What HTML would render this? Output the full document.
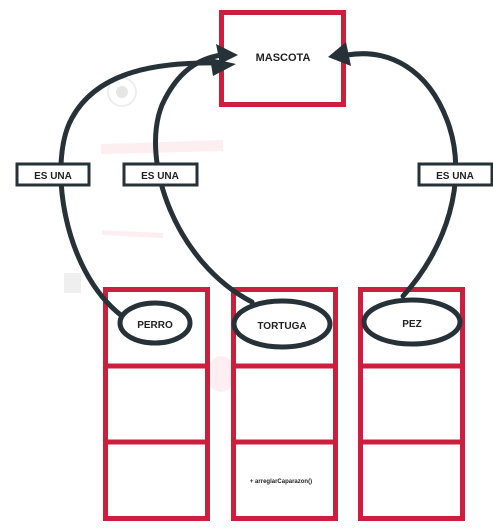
<!DOCTYPE html>
<html><head><style>
html,body{margin:0;padding:0;background:#fff;width:493px;height:531px;overflow:hidden}
svg{display:block}
text{font-family:"Liberation Sans",sans-serif;font-weight:bold;fill:#222}
</style></head><body>
<svg width="493" height="531" viewBox="0 0 493 531">
<circle cx="122" cy="92" r="14" fill="none" stroke="#eee" stroke-width="2"/>
<circle cx="122" cy="92" r="6" fill="#e6e6e6"/>
<polygon points="101,144 223,140 223,151 101,154" fill="#fdeef1"/>
<polygon points="102,230 163,233 163,238 102,235" fill="#fdeef1"/>
<rect x="64" y="273" width="17" height="20" fill="#efefef"/>
<ellipse cx="221" cy="374" rx="14" ry="18" fill="#fdeef1"/>

<rect x="221.5" y="12.5" width="122" height="92" fill="#fff" stroke="#cc1f3d" stroke-width="5"/>
<text x="283" y="61" font-size="11" text-anchor="middle">MASCOTA</text>

<g fill="#fff" stroke="#cc1f3d" stroke-width="5">
<rect x="105.5" y="289.5" width="102" height="229"/>
<rect x="233.5" y="289.5" width="102" height="229"/>
<rect x="360.5" y="289.5" width="102" height="229"/>
</g>
<g stroke="#cc1f3d" stroke-width="5">
<line x1="105" y1="366" x2="208" y2="366"/><line x1="105" y1="442" x2="208" y2="442"/>
<line x1="233" y1="366" x2="336" y2="366"/><line x1="233" y1="442" x2="336" y2="442"/>
<line x1="360" y1="366" x2="463" y2="366"/><line x1="360" y1="442" x2="463" y2="442"/>
</g>
<text x="281" y="483" font-size="6" text-anchor="middle">+ arreglarCaparazon()</text>

<g fill="none" stroke="#263238" stroke-width="5" stroke-linecap="round">
<path d="M122,316 C62,270 48,160 72,118 C98,70 160,62 220,63"/>
<path d="M252,302 C175,262 140,160 162,105 C178,70 200,58 222,55"/>
<path d="M403,296 C445,250 470,180 447,120 C428,70 390,48 347,55"/>
<ellipse cx="155" cy="323" rx="35" ry="20"/>
<ellipse cx="282" cy="324" rx="48" ry="23"/>
<ellipse cx="412" cy="322" rx="48" ry="22"/>
</g>
<g fill="#263238">
<polygon points="238,55 216,44 220,64"/>
<polygon points="236,64 210,58 213,76"/>
<polygon points="328,57 346,42 351,66"/>
</g>

<g fill="#fff" stroke="#263238" stroke-width="3">
<rect x="17" y="164" width="72" height="21"/>
<rect x="124" y="164" width="73" height="21"/>
<rect x="419" y="164" width="73" height="21"/>
</g>
<g font-size="10" text-anchor="middle">
<text x="53" y="179">ES UNA</text>
<text x="160" y="179">ES UNA</text>
<text x="455" y="179">ES UNA</text>
<text x="155" y="328">PERRO</text>
<text x="282" y="329">TORTUGA</text>
<text x="412" y="327">PEZ</text>
</g>
</svg>
</body></html>
